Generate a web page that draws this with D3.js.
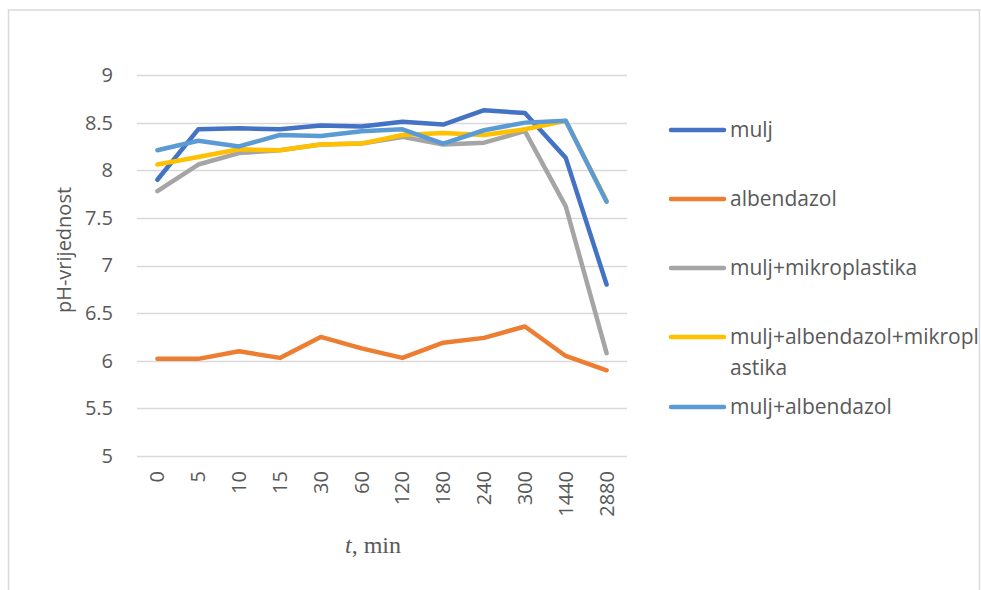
<!DOCTYPE html>
<html>
<head>
<meta charset="utf-8">
<script src="https://cdn.jsdelivr.net/npm/d3@7"></script>
<style>
  body { margin: 0; background: #fff; }
  text { font-family: "Open Sans", "Noto Sans", sans-serif; fill: #595959; }
</style>
</head>
<body>
<svg id="chart" width="981" height="590"></svg>
<script>
// time points (min)
const times = ["0", "5", "10", "15", "30", "60", "120", "180", "240", "300", "1440", "2880"];

const mulj = [7.90, 8.43, 8.44, 8.43, 8.47, 8.46, 8.51, 8.48, 8.63, 8.60, 8.13, 6.80];
const albendazol = [6.02, 6.02, 6.10, 6.03, 6.25, 6.13, 6.03, 6.19, 6.24, 6.36, 6.05, 5.90];
const muljMikro = [7.78, 8.06, 8.18, 8.21, 8.27, 8.28, 8.35, 8.27, 8.29, 8.41, 7.62, 6.08];
const muljAlbMikro = [8.06, 8.14, 8.22, 8.21, 8.27, 8.28, 8.37, 8.39, 8.37, 8.43, 8.52, 7.68];
const muljAlb = [8.21, 8.31, 8.25, 8.37, 8.36, 8.41, 8.43, 8.28, 8.42, 8.50, 8.52, 7.67];

const yTicks = [5, 5.5, 6, 6.5, 7, 7.5, 8, 8.5, 9];

const series = [
    { name: "mulj", values: mulj, color: "#4472C4" },
    { name: "albendazol", values: albendazol, color: "#ED7D31" },
    { name: "mulj+mikroplastika", values: muljMikro, color: "#A5A5A5" },
    { name: "mulj+albendazol+mikroplastika", values: muljAlbMikro, color: "#FFC000" },
    { name: "mulj+albendazol", values: muljAlb, color: "#5B9BD5" }
];

const svg = d3.select("#chart");

// outer chart border
svg.append("rect")
    .attr("x", 8.5)
    .attr("y", 10)
    .attr("width", 971)
    .attr("height", 600)
    .style("fill", "none")
    .style("stroke", "#d9d9d9")
    .style("stroke-width", 1.5);

const plot = { left: 137, right: 627, top: 75, bottom: 456 };

const x = d3.scaleBand()
    .domain(times)
    .range([plot.left, plot.right]);

const y = d3.scaleLinear()
    .domain([5, 9])
    .range([plot.bottom, plot.top]);

// gridlines
svg.append("g")
    .selectAll("line")
    .data(yTicks)
    .join("line")
    .attr("x1", plot.left)
    .attr("x2", plot.right)
    .attr("y1", d => Math.round(y(d)) + 0.5)
    .attr("y2", d => Math.round(y(d)) + 0.5)
    .style("stroke", "#d9d9d9")
    .style("stroke-width", 1.3);

// y axis labels
const yAxis = svg.append("g")
    .attr("transform", `translate(${plot.left - 24},0)`)
    .call(d3.axisLeft(y).tickValues(yTicks).tickSize(0).tickFormat(d3.format("")));
yAxis.select(".domain").remove();
yAxis.selectAll("text")
    .attr("x", 0)
    .style("font-family", "'Open Sans', sans-serif")
    .style("font-size", "20px")
    .style("fill", "#595959");

// x axis labels (rotated)
const xAxis = svg.append("g")
    .attr("transform", `translate(0,${plot.bottom})`)
    .call(d3.axisBottom(x).tickSize(0));
xAxis.select(".domain").remove();
xAxis.selectAll("text")
    .attr("transform", "rotate(-90)")
    .attr("x", -15)
    .attr("y", 0)
    .attr("dy", "0.35em")
    .attr("text-anchor", "end")
    .style("font-family", "'Open Sans', sans-serif")
    .style("font-size", "20px")
    .style("fill", "#595959");

// axis titles
svg.append("text")
    .attr("transform", "translate(71,250) rotate(-90)")
    .attr("text-anchor", "middle")
    .style("font-size", "20px")
    .text("pH-vrijednost");

const xTitle = svg.append("text")
    .attr("x", 373)
    .attr("y", 553)
    .attr("text-anchor", "middle")
    .style("font-family", "'Liberation Serif', 'DejaVu Serif', serif")
    .style("font-size", "24px");
xTitle.append("tspan").style("font-style", "italic").text("t");
xTitle.append("tspan").text(", min");

// lines
const line = d3.line()
    .x((d, i) => x(times[i]) + x.bandwidth() / 2)
    .y(d => y(d));

svg.append("g")
    .selectAll("path")
    .data(series)
    .join("path")
    .attr("d", d => line(d.values))
    .style("fill", "none")
    .style("stroke", d => d.color)
    .style("stroke-width", 4.5)
    .style("stroke-linecap", "round")
    .style("stroke-linejoin", "round");

// legend
const legendRows = [
    { lines: ["mulj"], y: 130 },
    { lines: ["albendazol"], y: 199 },
    { lines: ["mulj+mikroplastika"], y: 268 },
    { lines: ["mulj+albendazol+mikropl", "astika"], y: 337 },
    { lines: ["mulj+albendazol"], y: 407 }
];

const legend = svg.append("g");
series.forEach((s, i) => {
    const row = legendRows[i];
    legend.append("line")
        .attr("x1", 671)
        .attr("x2", 724)
        .attr("y1", row.y)
        .attr("y2", row.y)
        .style("stroke", s.color)
        .style("stroke-width", 4.5)
        .style("stroke-linecap", "round");
    const t = legend.append("text")
        .attr("x", 730)
        .attr("y", row.y)
        .style("font-size", "21px");
    row.lines.forEach((ln, j) => {
        t.append("tspan")
            .attr("x", 730)
            .attr("dy", j === 0 ? "0.35em" : "1.45em")
            .text(ln);
    });
});
</script>
</body>
</html>
